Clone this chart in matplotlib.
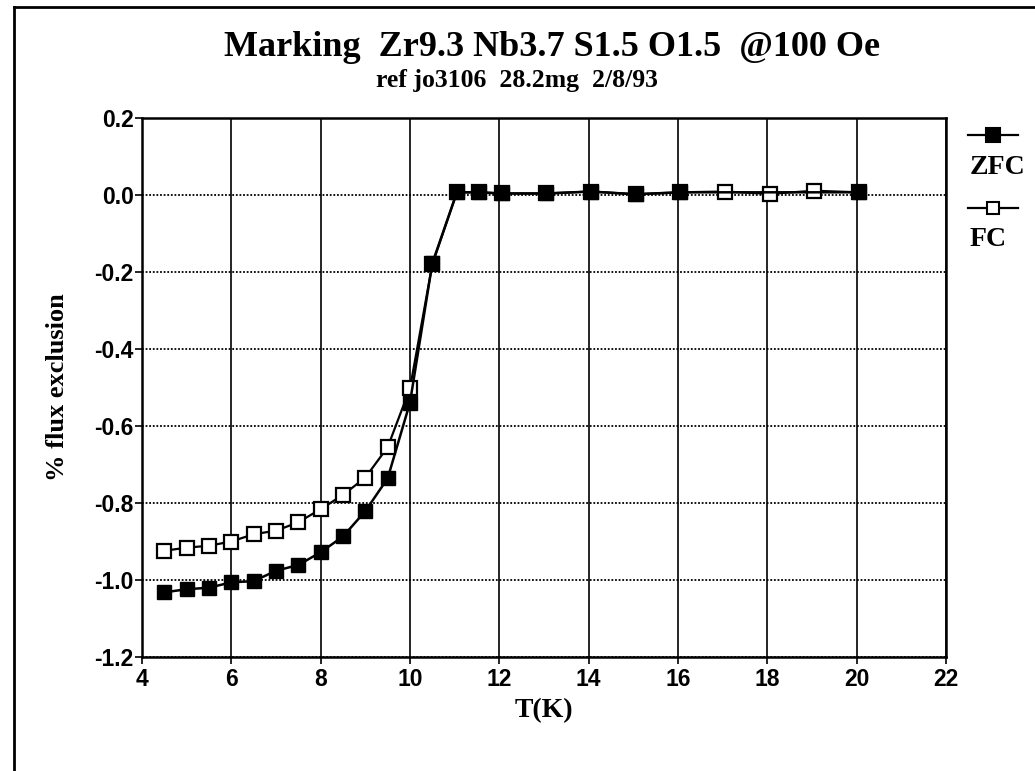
import matplotlib
matplotlib.use("Agg")
import matplotlib.pyplot as plt
from matplotlib.lines import Line2D

# ---- data ----
zfc_T = [4.5, 5.0, 5.5, 6.0, 6.5, 7.0, 7.5, 8.0, 8.5, 9.0, 9.5, 10.0, 10.5,
         11.05, 11.55, 12.05, 13.05, 14.05, 15.05, 16.05, 20.05]
zfc_M = [-1.032, -1.024, -1.020, -1.006, -1.003, -0.976, -0.961, -0.928, -0.887,
         -0.821, -0.736, -0.539, -0.177,
         0.007, 0.007, 0.004, 0.004, 0.009, 0.002, 0.007, 0.007]
fc_T = [4.5, 5.0, 5.5, 6.0, 6.5, 7.0, 7.5, 8.0, 8.5, 9.0, 9.5, 10.0, 10.5,
        11.05, 11.55, 12.05, 13.05, 14.05, 15.05, 16.05, 17.05, 18.05, 19.05, 20.05]
fc_M = [-0.924, -0.916, -0.911, -0.900, -0.881, -0.872, -0.850, -0.816, -0.779,
        -0.734, -0.655, -0.502, -0.18,
        0.007, 0.007, 0.004, 0.004, 0.009, 0.002, 0.007, 0.009, 0.003, 0.011, 0.007]
x_ticks = [4, 6, 8, 10, 12, 14, 16, 18, 20, 22]
y_ticks = [0.2, 0.0, -0.2, -0.4, -0.6, -0.8, -1.0, -1.2]

title = "Marking  Zr9.3 Nb3.7 S1.5 O1.5  @100 Oe"
subtitle = "ref jo3106  28.2mg  2/8/93"

W, H = 1035, 771
fig = plt.figure(figsize=(W / 100, H / 100), dpi=100)
ax = fig.add_axes([142 / W, 1 - 657 / H, (946 - 142) / W, (657 - 118) / H])

serif = "Liberation Serif"
sans = "Liberation Sans"

# grid
for xv in x_ticks:
    ax.axvline(xv, color="black", lw=1.2, zorder=1)
for yv in y_ticks:
    ax.axhline(yv, color="black", lw=1.3, ls=(0, (1, 1)), zorder=1)

ax.plot(fc_T, fc_M, color="black", lw=1.6, marker="s", ms=9.5, mfc="white",
        mec="black", mew=1.6, zorder=3)
ax.plot(zfc_T, zfc_M, color="black", lw=1.8, marker="s", ms=10, mfc="black",
        mec="black", zorder=4)

ax.set_xlim(4, 22)
ax.set_ylim(-1.2, 0.2)
ax.set_xticks(x_ticks)
ax.set_xticklabels([str(v) for v in x_ticks])
ax.set_yticks(y_ticks)
ax.set_yticklabels([f"{v:.1f}" for v in y_ticks])
ax.tick_params(direction="out", length=5, width=1.2, labelsize=16.5)
ax.tick_params(axis="x", pad=3)
ax.tick_params(axis="y", pad=1)
for lab in ax.get_xticklabels() + ax.get_yticklabels():
    lab.set_fontfamily(sans)
    lab.set_fontweight("bold")
for s in ax.spines.values():
    s.set_linewidth(1.8)

ax.set_xlabel("T(K)", fontfamily=serif, fontweight="bold", fontsize=20, labelpad=5)
ax.set_ylabel("% flux exclusion", fontfamily=serif, fontweight="bold", fontsize=19,
              labelpad=18)

fig.text(0.5 * (226 + 877) / W, 1 - 47 / H, title, fontfamily=serif, fontsize=26,
         fontweight="bold", ha="center", va="center")
fig.text(0.5 * (378 + 656) / W, 1 - 80 / H, subtitle, fontfamily=serif,
         fontweight="bold", fontsize=18.5, ha="center", va="center")

# legend (manual, outside right)
def leg_entry(ycenter, text_y, label, filled):
    fig.add_artist(Line2D([968 / W, 1018 / W], [1 - ycenter / H] * 2, color="black",
                          lw=1.6))
    fig.add_artist(Line2D([993 / W], [1 - ycenter / H], marker="s", ms=10 if filled else 8,
                          mfc="black" if filled else "white", mec="black", mew=1.5,
                          color="black"))
    fig.text(970 / W, 1 - text_y / H, label, fontfamily=serif, fontweight="bold",
             fontsize=20, ha="left", va="center")

leg_entry(135, 167, "ZFC", True)
leg_entry(208, 240, "FC", False)

# outer frame lines
fig.add_artist(Line2D([14 / W, 14 / W], [0, 1 - 7 / H], color="black", lw=2))
fig.add_artist(Line2D([14 / W, 1], [1 - 7 / H, 1 - 7 / H], color="black", lw=2))

fig.savefig("out.png", dpi=100, facecolor="white")
